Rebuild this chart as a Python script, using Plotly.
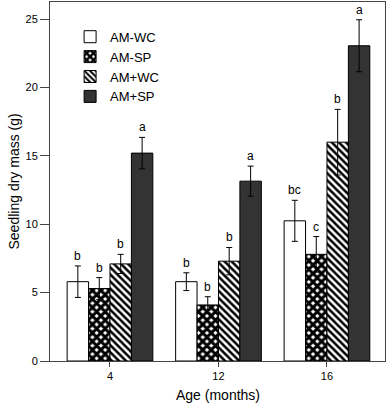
import plotly.graph_objects as go

ages = ["4", "12", "16"]
series_names = ["AM-WC", "AM-SP", "AM+WC", "AM+SP"]
am_wc = [5.8, 5.8, 10.25]
am_sp = [5.3, 4.1, 7.8]
amp_wc = [7.1, 7.3, 16.0]
amp_sp = [15.2, 13.15, 23.05]
err_am_wc = [1.15, 0.65, 1.5]
err_am_sp = [0.8, 0.6, 1.3]
err_amp_wc = [0.7, 1.0, 2.4]
err_amp_sp = [1.15, 1.1, 1.9]
letters_am_wc = ["b", "b", "bc"]
letters_am_sp = ["b", "b", "c"]
letters_amp_wc = ["b", "b", "b"]
letters_amp_sp = ["a", "a", "a"]

values = [am_wc, am_sp, amp_wc, amp_sp]
errors = [err_am_wc, err_am_sp, err_amp_wc, err_amp_sp]
letters = [letters_am_wc, letters_am_sp, letters_amp_wc, letters_amp_sp]

patterns = [
    dict(color="white", pattern=dict(shape="")),
    dict(color="white", pattern=dict(shape="x", fgcolor="black", bgcolor="white", size=6, solidity=0.75, fillmode="replace")),
    dict(color="white", pattern=dict(shape="\\", fgcolor="black", bgcolor="white", size=5, solidity=0.5, fillmode="replace")),
    dict(color="#333333", pattern=dict(shape="")),
]

bargap = 0.21
n = len(series_names)
xs = list(range(len(ages)))

fig = go.Figure()
for k in range(n):
    m = dict(patterns[k])
    m["line"] = dict(color="black", width=1)
    fig.add_trace(go.Bar(
        x=xs, y=values[k], name=series_names[k], marker=m,
        error_y=dict(type="data", array=errors[k], color="black", thickness=1, width=3),
    ))

bw = (1 - bargap) / n
annotations = []
for k in range(n):
    for i in xs:
        annotations.append(dict(
            x=i - (1 - bargap) / 2 + (k + 0.5) * bw, y=values[k][i] + errors[k][i],
            xref="x", yref="y", text=letters[k][i], showarrow=False,
            yanchor="bottom", yshift=1, font=dict(size=12, color="black"),
        ))
annotations.append(dict(text="Age (months)", x=0.5, y=0, xref="paper", yref="paper",
                        yanchor="middle", yshift=-34, showarrow=False, font=dict(size=14, color="black")))
annotations.append(dict(text="Seedling dry mass (g)", x=0, y=0.5, xref="paper", yref="paper",
                        xanchor="center", xshift=-37, textangle=-90, showarrow=False,
                        font=dict(size=14, color="black")))

fig.update_layout(
    width=388, height=407,
    margin=dict(l=50, r=3, t=2, b=46),
    paper_bgcolor="white", plot_bgcolor="white",
    barmode="group", bargap=bargap, bargroupgap=0,
    font=dict(family="Liberation Sans, Arial", color="black"),
    showlegend=True,
    legend=dict(x=0.06, y=0.945, xanchor="left", yanchor="top", bgcolor="rgba(0,0,0,0)",
                font=dict(size=13), tracegroupgap=0, itemclick=False),
    annotations=annotations,
)
fig.update_xaxes(
    tickvals=xs, ticktext=ages, range=[-0.553, 2.535], automargin=False,
    showline=True, linecolor="#444", linewidth=1, mirror=True,
    ticks="outside", ticklen=5, tickcolor="#444",
    tickfont=dict(size=11), showgrid=False, zeroline=False,
)
fig.update_yaxes(
    range=[0, 26.25], tickvals=[0, 5, 10, 15, 20, 25], automargin=False,
    showline=True, linecolor="#444", linewidth=1, mirror=True,
    ticks="outside", ticklen=9, tickcolor="#444",
    tickfont=dict(size=11), showgrid=False, zeroline=False,
)

fig.write_html("out.html", config={"displayModeBar": False},
               post_script="document.body.style.margin='0';document.body.style.overflow='hidden';")
